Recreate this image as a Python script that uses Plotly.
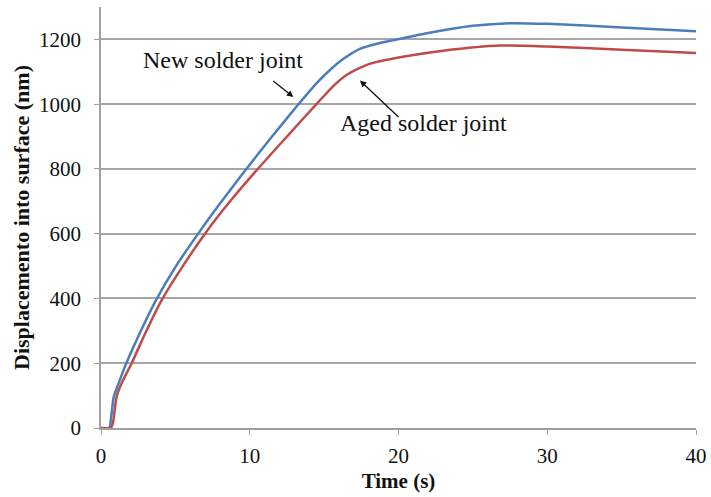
import plotly.graph_objects as go

# New solder joint (blue)
new_t = [0, 0.55, 0.7, 0.85, 1.2, 1.7, 2.7, 3.7, 5.0, 6.7, 8.0, 9.7, 11.5, 13.3,
         14.5, 15.5, 16.3, 17.4, 18.5, 19.6, 22, 25, 27.5, 30, 35, 40]
new_y = [0, 0, 40, 95, 140, 200, 302, 395, 497, 611, 693, 796, 900, 1001,
         1065, 1110, 1140, 1171, 1186, 1197, 1220, 1242, 1250, 1248, 1237, 1225]

# Aged solder joint (red)
aged_t = [0, 0.65, 0.8, 1.05, 1.4, 2.06, 3.0, 4.08, 5.5, 7.1, 8.5, 10.35, 12.5, 14.5,
          15.6, 16.5, 17.3, 18.1, 20.8, 23, 26.8, 30, 35, 40]
aged_y = [0, 0, 15, 97, 140, 200, 295, 395, 500, 607, 690, 790, 900, 1001,
          1055, 1090, 1110, 1125, 1150, 1165, 1181, 1178, 1168, 1158]

x_ticks = [0, 10, 20, 30, 40]
y_ticks = [0, 200, 400, 600, 800, 1000, 1200]

FONT = "Liberation Serif"

fig = go.Figure()
fig.add_trace(go.Scatter(x=new_t, y=new_y, mode="lines", line=dict(color="#4a7ebb", width=2.5, shape="spline", smoothing=0.6), showlegend=False))
fig.add_trace(go.Scatter(x=aged_t, y=aged_y, mode="lines", line=dict(color="#be4b48", width=2.5, shape="spline", smoothing=0.6), showlegend=False))

fig.add_annotation(x=8.17, y=1135, text="New solder joint", showarrow=False,
                   font=dict(family=FONT, size=24, color="#111"))
fig.add_annotation(x=21.65, y=941, text="Aged solder joint", showarrow=False,
                   font=dict(family=FONT, size=24, color="#111"))
fig.add_annotation(x=12.93, y=1022, ax=11.48, ay=1075, axref="x", ayref="y", text="",
                   showarrow=True, arrowhead=2, arrowsize=1, arrowwidth=1.3, arrowcolor="#111")
fig.add_annotation(x=17.41, y=1073, ax=20.1, ay=956, axref="x", ayref="y", text="",
                   showarrow=True, arrowhead=2, arrowsize=1, arrowwidth=1.3, arrowcolor="#111")

fig.update_layout(
    width=711, height=497,
    margin=dict(l=101, r=15, t=7, b=69),
    paper_bgcolor="white", plot_bgcolor="white",
    font=dict(family=FONT, size=21, color="#111"),
)
fig.update_xaxes(range=[0, 40], tickvals=x_ticks, showgrid=False, zeroline=False,
                 showline=True, linecolor="#a0a0a0", linewidth=1.5, automargin=False,
                 ticks="outside", ticklen=5, tickcolor="#a0a0a0", ticklabelstandoff=3,
                 title=dict(text="<b>Time (s)</b>", font=dict(family=FONT, size=21), standoff=6))
fig.update_yaxes(range=[0, 1300], tickvals=y_ticks, showgrid=True, gridcolor="#a6a6a6", gridwidth=1.5,
                 zeroline=False, showline=True, linecolor="#a0a0a0", linewidth=1.5, automargin=False,
                 ticks="outside", ticklen=5, tickcolor="#a0a0a0", ticklabelstandoff=9,
                 title=dict(text="<b>Displacemento into surface (nm)</b>", font=dict(family=FONT, size=22), standoff=3))

fig.write_html("out.html")
